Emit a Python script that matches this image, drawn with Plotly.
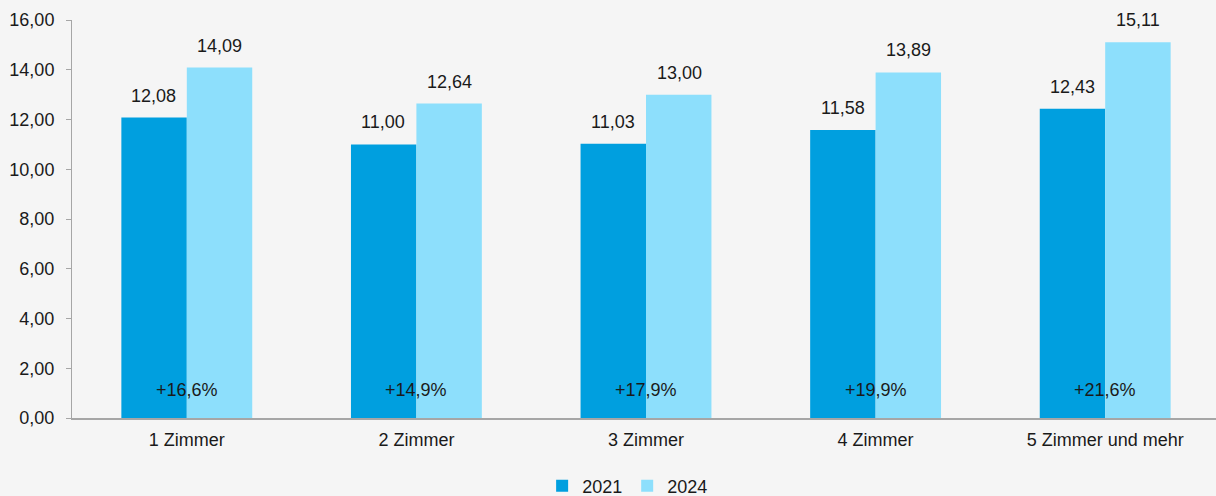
import plotly.graph_objects as go

categories = ["1 Zimmer", "2 Zimmer", "3 Zimmer", "4 Zimmer", "5 Zimmer und mehr"]
values_2021 = [12.08, 11.00, 11.03, 11.58, 12.43]
values_2024 = [14.09, 12.64, 13.00, 13.89, 15.11]
change_labels = ["+16,6%", "+14,9%", "+17,9%", "+19,9%", "+21,6%"]
y_ticks = [0, 2, 4, 6, 8, 10, 12, 14, 16]

FONT = "Liberation Sans, Arial, sans-serif"
TEXT = "#1a1a1a"
BG = "#f5f5f5"


def de(v):
    return f"{v:.2f}".replace(".", ",")


fig = go.Figure()
fig.add_trace(go.Bar(x=categories, y=values_2021, name="2021", marker_color="#009fdf",
                     marker_line_width=0))
fig.add_trace(go.Bar(x=categories, y=values_2024, name="2024", marker_color="#8ddffc",
                     marker_line_width=0))

# value labels above bars, change labels at the bottom of each group
for i, cat in enumerate(categories):
    fig.add_annotation(x=cat, y=values_2021[i], xshift=-33, yshift=22, text=de(values_2021[i]),
                       showarrow=False, font=dict(size=18, color=TEXT))
    fig.add_annotation(x=cat, y=values_2024[i], xshift=33, yshift=22, text=de(values_2024[i]),
                       showarrow=False, font=dict(size=18, color=TEXT))
    fig.add_annotation(x=cat, y=0, yshift=28, text=change_labels[i],
                       showarrow=False, font=dict(size=18, color=TEXT))

fig.update_layout(
    barmode="group",
    bargap=0.43,
    bargroupgap=0,
    width=1220,
    height=496,
    paper_bgcolor=BG,
    plot_bgcolor=BG,
    font=dict(family=FONT, size=18, color=TEXT),
    margin=dict(l=72, r=0, t=20, b=78),
    legend=dict(orientation="h", x=0.484, xanchor="center", xref="paper",
                y=0.02, yanchor="middle", yref="container",
                font=dict(size=18), itemwidth=30, traceorder="normal"),
    showlegend=True,
)
fig.update_yaxes(
    range=[0, 16],
    tickvals=y_ticks,
    ticktext=[de(v) for v in y_ticks],
    showgrid=False,
    zeroline=False,
    showline=True,
    linecolor="#a6a6a6",
    linewidth=1,
    ticks="outside",
    ticklen=5,
    tickcolor="#a6a6a6",
    ticklabelstandoff=8,
    automargin=False,
)
fig.update_xaxes(
    showgrid=False,
    showline=True,
    linecolor="#a6a6a6",
    linewidth=2,
    ticks="",
    ticklabelstandoff=4,
    automargin=False,
)

fig.write_html(
    "out.html",
    config={"displayModeBar": False},
    post_script=(
        "document.body.style.margin='0';"
        "document.body.style.overflow='hidden';"
        "document.body.style.background='#f5f5f5';"
    ),
)
